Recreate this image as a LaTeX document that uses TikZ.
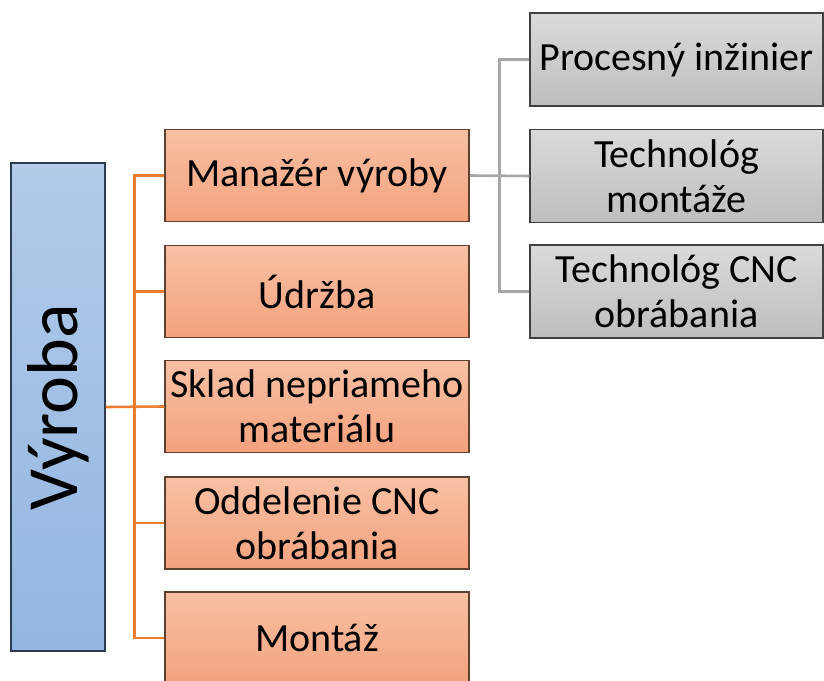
\documentclass[tikz,border=0pt]{standalone}
\usepackage{fontspec}
\setmainfont{Carlito}
\definecolor{orgTop}{HTML}{F8C0A4}
\definecolor{orgBot}{HTML}{F4A27D}
\definecolor{orgLine}{HTML}{ED7D31}
\definecolor{orgEdge}{HTML}{5E4030}
\definecolor{bluTop}{HTML}{B1CBE9}
\definecolor{bluBot}{HTML}{93B6E2}
\definecolor{bluEdge}{HTML}{2E3B50}
\definecolor{gryTop}{HTML}{DADADA}
\definecolor{gryBot}{HTML}{BEBEBE}
\definecolor{gryLine}{HTML}{A6A6A6}
\definecolor{gryEdge}{HTML}{404040}
\tikzset{
  unitbox/.style={draw=orgEdge, line width=1.5pt, top color=orgTop, bottom color=orgBot,
    minimum width=304pt, minimum height=92pt, inner sep=0pt, align=center,
    font=\fontsize{40}{45}\selectfont},
  rolebox/.style={draw=gryEdge, line width=1.5pt, top color=gryTop, bottom color=gryBot,
    minimum width=293pt, minimum height=93pt, inner sep=0pt, align=center,
    font=\fontsize{40}{45}\selectfont},
  headbox/.style={draw=bluEdge, line width=1.5pt, top color=bluTop, bottom color=bluBot,
    minimum width=94pt, minimum height=488pt, inner sep=0pt,
    font=\fontsize{72}{80}\selectfont},
  orgconn/.style={draw=orgLine, line width=2.6pt},
  gryconn/.style={draw=gryLine, line width=2.6pt}
}
\begin{document}
\begin{tikzpicture}[x=1pt, y=-1pt]
\useasboundingbox (0,0) rectangle (824,680);

% top-level department
\node[headbox] (vyr) at (58,407) {\rotatebox{90}{Výroba}};

% departments
\node[unitbox] (m1) at (317,175.5) {Manažér výroby};
\node[unitbox] (m2) at (317,291.5) {Údržba};
\node[unitbox] (m3) at (317,406.5) {Sklad nepriameho\\materiálu};
\node[unitbox] (m4) at (317,523) {Oddelenie CNC\\obrábania};
\node[unitbox] (m5) at (317,638) {Montáž};

% roles under the production manager
\node[rolebox] (g1) at (676.5,59.5) {Procesný inžinier};
\node[rolebox] (g2) at (676.5,176) {Technológ\\montáže};
\node[rolebox] (g3) at (676.5,291.5) {Technológ CNC\\obrábania};

% orange tree
\draw[orgconn] (m1.west) -- ++(-30,0) |- (m5.west);
\draw[orgconn] (m2.west) -- ++(-30,0);
\draw[orgconn] (m4.west) -- ++(-30,0);
\draw[orgconn] (vyr.east) -- (m3.west);

% grey tree
\draw[gryconn] (g1.west) -- ++(-30,0) |- (g3.west);
\draw[gryconn] (m1.east) -- (g2.west);
\end{tikzpicture}
\end{document}
